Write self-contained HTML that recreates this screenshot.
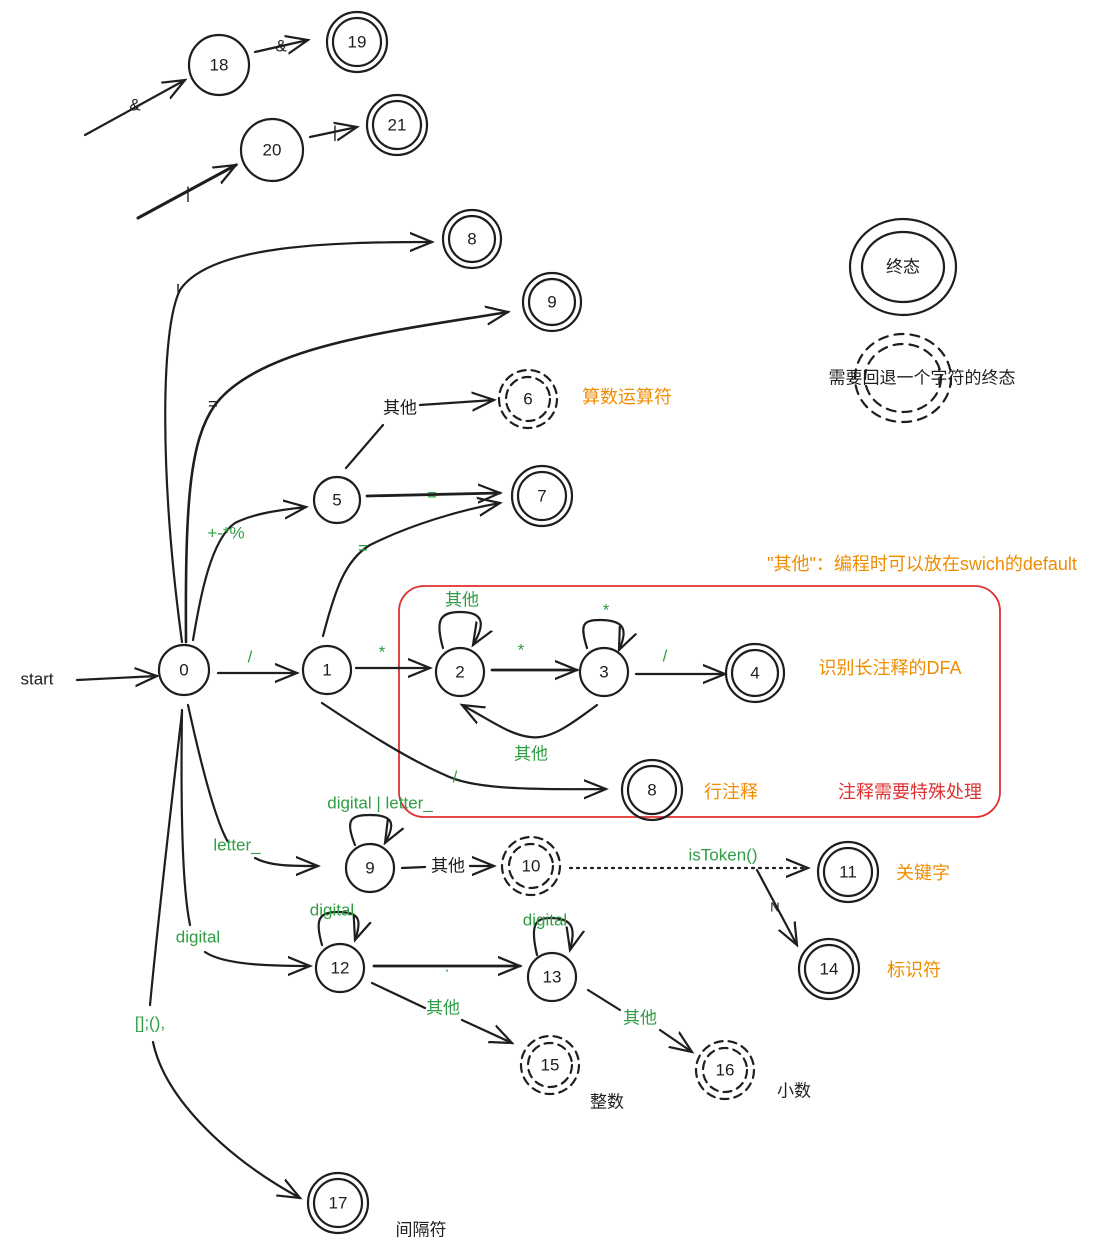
<!DOCTYPE html>
<html><head><meta charset="utf-8"><style>
html,body{margin:0;padding:0;background:#fff}
svg{display:block}
text{font-family:"Liberation Sans","Noto Sans CJK SC",sans-serif;text-anchor:middle;dominant-baseline:central}
</style></head><body>
<svg width="1112" height="1255" viewBox="0 0 1112 1255" xmlns="http://www.w3.org/2000/svg">
<defs>
<marker id="a" markerUnits="userSpaceOnUse" markerWidth="30" markerHeight="30" refX="22" refY="10" orient="auto" viewBox="0 0 30 20">
<path d="M0,1 L22,10 L0,19" fill="none" stroke="#1e1e1e" stroke-width="2.2" stroke-linecap="round"/>
</marker>
</defs>
<rect x="399" y="586" width="601" height="231" rx="25" fill="none" stroke="#e03131" stroke-width="1.8"/>
<g fill="none" stroke="#1e1e1e" stroke-width="2.2" stroke-linecap="round">
<!-- circles -->
<circle cx="219" cy="65" r="30"/>
<circle cx="357" cy="42" r="30"/><circle cx="357" cy="42" r="24"/>
<circle cx="272" cy="150" r="31"/>
<circle cx="397" cy="125" r="30"/><circle cx="397" cy="125" r="24"/>
<circle cx="472" cy="239" r="29"/><circle cx="472" cy="239" r="23"/>
<circle cx="552" cy="302" r="29"/><circle cx="552" cy="302" r="23"/>
<circle cx="528" cy="399" r="29" stroke-dasharray="8 6"/><circle cx="528" cy="399" r="22" stroke-dasharray="8 6"/>
<circle cx="337" cy="500" r="23"/>
<circle cx="542" cy="496" r="30"/><circle cx="542" cy="496" r="24"/>
<circle cx="184" cy="670" r="25"/>
<circle cx="327" cy="670" r="24"/>
<circle cx="460" cy="672" r="24"/>
<circle cx="604" cy="672" r="24"/>
<circle cx="755" cy="673" r="29"/><circle cx="755" cy="673" r="23"/>
<circle cx="652" cy="790" r="30"/><circle cx="652" cy="790" r="24"/>
<circle cx="370" cy="868" r="24"/>
<circle cx="531" cy="866" r="29" stroke-dasharray="8 6"/><circle cx="531" cy="866" r="22" stroke-dasharray="8 6"/>
<circle cx="848" cy="872" r="30"/><circle cx="848" cy="872" r="24"/>
<circle cx="340" cy="968" r="24"/>
<circle cx="552" cy="977" r="24"/>
<circle cx="829" cy="969" r="30"/><circle cx="829" cy="969" r="24"/>
<circle cx="550" cy="1065" r="29" stroke-dasharray="8 6"/><circle cx="550" cy="1065" r="22" stroke-dasharray="8 6"/>
<circle cx="725" cy="1070" r="29" stroke-dasharray="8 6"/><circle cx="725" cy="1070" r="22" stroke-dasharray="8 6"/>
<circle cx="338" cy="1203" r="30"/><circle cx="338" cy="1203" r="24"/>
<ellipse cx="903" cy="267" rx="53" ry="48"/><ellipse cx="903" cy="267" rx="41" ry="35"/>
<ellipse cx="903" cy="378" rx="48" ry="44" stroke-dasharray="9 7"/><ellipse cx="903" cy="378" rx="38" ry="34" stroke-dasharray="9 7"/>
<!-- edges -->
<path d="M85,135 L185,80" marker-end="url(#a)"/>
<path d="M138,218 L236,165" marker-end="url(#a)" stroke-width="3"/>
<path d="M255,52 L308,40" marker-end="url(#a)"/>
<path d="M310,137 L357,127" marker-end="url(#a)"/>
<path d="M182,642 C160,480 160,330 180,290 C210,245 330,242 432,242" marker-end="url(#a)"/>
<path d="M186,642 C185,500 190,440 215,405 C260,345 400,330 508,312" marker-end="url(#a)" stroke-width="2.6"/>
<path d="M193,640 C200,600 210,540 235,523 C255,513 280,510 306,507" marker-end="url(#a)"/>
<path d="M346,468 L383,425"/>
<path d="M420,405 L494,400" marker-end="url(#a)"/>
<path d="M367,496 L500,493" marker-end="url(#a)" stroke-width="2.8"/>
<path d="M323,636 C335,590 345,560 370,545 C410,525 460,510 500,503" marker-end="url(#a)"/>
<path d="M218,673 L297,673" marker-end="url(#a)"/>
<path d="M356,668 L430,668" marker-end="url(#a)"/>
<path d="M443,648 C435,620 440,612 460,612 C485,612 485,625 473,645" marker-end="url(#a)"/>
<path d="M492,670 L577,670" marker-end="url(#a)" stroke-width="2.8"/>
<path d="M587,648 C580,625 582,620 600,620 C625,620 628,630 619,650" marker-end="url(#a)"/>
<path d="M597,705 C570,725 550,740 530,737 C510,735 490,720 462,705" marker-end="url(#a)"/>
<path d="M636,674 L725,674" marker-end="url(#a)"/>
<path d="M322,703 C370,735 410,760 445,775 C470,788 520,790 606,789" marker-end="url(#a)"/>
<path d="M188,705 C200,760 215,820 228,842" />
<path d="M255,858 C270,866 290,866 318,866" marker-end="url(#a)"/>
<path d="M355,845 C345,820 350,815 370,815 C395,815 395,825 385,843" marker-end="url(#a)"/>
<path d="M402,868 L425,867"/>
<path d="M470,866 L494,866" marker-end="url(#a)"/>
<path d="M570,868 L808,868" stroke-dasharray="2 5" marker-end="url(#a)"/>
<path d="M757,870 L797,945" marker-end="url(#a)"/>
<path d="M182,710 C180,850 185,900 190,925"/>
<path d="M205,952 C225,966 280,966 310,966" marker-end="url(#a)"/>
<path d="M322,945 C315,920 318,912 338,912 C360,912 362,920 355,940" marker-end="url(#a)"/>
<path d="M374,966 L520,966" marker-end="url(#a)" stroke-width="2.8"/>
<path d="M537,955 C530,925 535,918 550,918 C575,918 575,930 570,950" marker-end="url(#a)"/>
<path d="M372,983 L425,1008"/>
<path d="M462,1020 L512,1043" marker-end="url(#a)"/>
<path d="M588,990 L620,1010"/>
<path d="M660,1030 L692,1052" marker-end="url(#a)"/>
<path d="M182,712 C172,800 160,900 150,1005"/>
<path d="M153,1042 C165,1100 230,1160 300,1198" marker-end="url(#a)"/>
<path d="M77,680 L157,676" marker-end="url(#a)"/>
</g>
<g font-size="17" fill="#1e1e1e">
<text x="219" y="65">18</text><text x="357" y="42">19</text><text x="272" y="150">20</text><text x="397" y="125">21</text>
<text x="472" y="239">8</text><text x="552" y="302">9</text><text x="528" y="399">6</text><text x="337" y="500">5</text>
<text x="542" y="496">7</text><text x="184" y="670">0</text><text x="327" y="670">1</text><text x="460" y="672">2</text>
<text x="604" y="672">3</text><text x="755" y="673">4</text><text x="652" y="790">8</text><text x="370" y="868">9</text>
<text x="531" y="866">10</text><text x="848" y="872">11</text><text x="340" y="968">12</text><text x="552" y="977">13</text>
<text x="829" y="969">14</text><text x="550" y="1065">15</text><text x="725" y="1070">16</text><text x="338" y="1203">17</text>
<text x="903" y="267">终态</text>
<text x="922" y="378">需要回退一个字符的终态</text>
<text x="37" y="679">start</text>
<text x="135" y="105">&amp;</text><text x="188" y="193">|</text><text x="281" y="46">&amp;</text><text x="335" y="132">|</text>
<text x="178" y="290">!</text><text x="213" y="404">=</text>
<text x="400" y="408">其他</text><text x="448" y="866">其他</text>
<text x="775" y="907" font-size="13">N</text>
<text x="607" y="1102">整数</text><text x="794" y="1091">小数</text><text x="421" y="1230">间隔符</text>
</g>
<g font-size="17" fill="#2f9e44">
<text x="226" y="533">+-*%</text><text x="432" y="495">=</text><text x="363" y="548">=</text>
<text x="250" y="657">/</text><text x="382" y="652">*</text><text x="462" y="600">其他</text><text x="521" y="650">*</text>
<text x="606" y="610">*</text><text x="531" y="754">其他</text><text x="665" y="656">/</text><text x="455" y="777">/</text>
<text x="237" y="845">letter_</text><text x="380" y="803">digital | letter_</text>
<text x="723" y="855">isToken()</text><text x="198" y="937">digital</text>
<text x="332" y="910">digital</text><text x="545" y="920">digital</text>
<text x="443" y="1008">其他</text><text x="640" y="1018">其他</text>
<text x="150" y="1023">[];(),</text><text x="447" y="966">.</text>
</g>
<g font-size="18" fill="#f08c00">
<text x="627" y="397">算数运算符</text><text x="890" y="668">识别长注释的DFA</text>
<text x="731" y="792">行注释</text><text x="923" y="873">关键字</text><text x="914" y="970">标识符</text>
<text x="922" y="564">"其他"：编程时可以放在swich的default</text>
</g>
<text x="910" y="792" font-size="18" fill="#e03131">注释需要特殊处理</text>
</svg>
</body></html>
